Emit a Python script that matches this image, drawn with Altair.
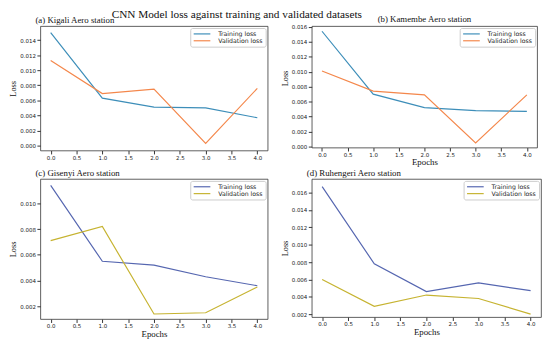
import altair as alt
import pandas as pd

epochs = [0, 1, 2, 3, 4]
series_names = ["Training loss", "Validation loss"]

kigali_train = [0.0150, 0.0063, 0.0051, 0.0050, 0.0037]
kigali_val = [0.0113, 0.0069, 0.0075, 0.0003, 0.0076]
kamembe_train = [0.0154, 0.0070, 0.0052, 0.0048, 0.0047]
kamembe_val = [0.0101, 0.0074, 0.0069, 0.0005, 0.0069]
gisenyi_train = [0.0114, 0.0055, 0.0052, 0.0043, 0.0036]
gisenyi_val = [0.0071, 0.0082, 0.0014, 0.0015, 0.0035]
ruhengeri_train = [0.0167, 0.0078, 0.0046, 0.0056, 0.0047]
ruhengeri_val = [0.0060, 0.0029, 0.0042, 0.0038, 0.0020]

x_ticks = [0.0, 0.5, 1.0, 1.5, 2.0, 2.5, 3.0, 3.5, 4.0]

SERIF = "Liberation Serif"
SANS = "DejaVu Sans"


def frame(train, val):
    rows = []
    for e, t, v in zip(epochs, train, val):
        rows.append({"epoch": e, "loss": t, "series": series_names[0]})
        rows.append({"epoch": e, "loss": v, "series": series_names[1]})
    return pd.DataFrame(rows)


def panel(train, val, title, anchor, tdx, ydomain, yticks, colors, w, h,
          xtitle=None, ytitle_y=None, ytitle_pad=2.0, xtitle_pad=0.5):
    yaxis_kw = dict(values=yticks, format=".3f", title="Loss",
                    titleFont=SERIF, titleFontSize=8.5, titleFontWeight="normal",
                    titlePadding=ytitle_pad, labelFont=SANS, labelFontSize=5.6,
                    labelPadding=1.5, tickSize=3.5, grid=False, domain=False,
                    tickColor="#333", labelColor="#222", titleColor="#111")
    if ytitle_y is not None:
        yaxis_kw["titleY"] = ytitle_y
    xaxis_kw = dict(values=x_ticks, format=".1f", labelAngle=0,
                    labelFont=SANS, labelFontSize=5.6, labelPadding=1.5,
                    tickSize=3.5, grid=False, domain=False, tickColor="#333",
                    labelColor="#222", titleColor="#111")
    if xtitle:
        xaxis_kw.update(title=xtitle, titleFont=SERIF, titleFontSize=9,
                        titleFontWeight="normal", titlePadding=xtitle_pad)
    else:
        xaxis_kw.update(title=None)
    return alt.Chart(frame(train, val)).mark_line(strokeWidth=1.2).encode(
        x=alt.X("epoch:Q", scale=alt.Scale(domain=[-0.2, 4.2], nice=False, zero=False),
                axis=alt.Axis(**xaxis_kw)),
        y=alt.Y("loss:Q", scale=alt.Scale(domain=ydomain, nice=False, zero=False),
                axis=alt.Axis(**yaxis_kw)),
        color=alt.Color("series:N",
                        scale=alt.Scale(domain=series_names, range=colors),
                        legend=alt.Legend(title=None, orient="top-right", offset=2,
                                          strokeColor="#ccc", fillColor="white",
                                          padding=2.5, cornerRadius=2,
                                          symbolType="M-3.4,0L3.4,0",
                                          symbolStrokeWidth=1.2, symbolSize=25,
                                          symbolOffset=6, labelOffset=13,
                                          labelFont=SANS, labelFontSize=6.3,
                                          labelColor="#222", rowPadding=0)),
    ).properties(
        width=w, height=h,
        title=alt.TitleParams(title, font=SERIF, fontSize=9, fontWeight="normal",
                              anchor=anchor, frame="group", dx=tdx, offset=1,
                              color="#111"),
    )


c1 = ["#3d8eb9", "#f4874b"]
c2 = ["#5566b0", "#c6b330"]

a = panel(kigali_train, kigali_val, "(a) Kigali Aero station", "start", -5,
          [-0.00065, 0.01586], [0.000, 0.002, 0.004, 0.006, 0.008, 0.010, 0.012, 0.014],
          c1, 232, 127)
b = panel(kamembe_train, kamembe_val, "(b) Kamembe Aero station", "middle", 0,
          [-0.00013, 0.01609], [0.000, 0.002, 0.004, 0.006, 0.008, 0.010, 0.012, 0.014, 0.016],
          c1, 230, 124, xtitle="Epochs", ytitle_y=53, xtitle_pad=0)
c = panel(gisenyi_train, gisenyi_val, "(c) Gisenyi Aero station", "start", -5,
          [0.00101, 0.0119], [0.002, 0.004, 0.006, 0.008, 0.010],
          c2, 232, 143, xtitle="Epochs")
d = panel(ruhengeri_train, ruhengeri_val, "(d) Ruhengeri Aero station", "start", -5,
          [0.00166, 0.01758], [0.002, 0.004, 0.006, 0.008, 0.010, 0.012, 0.014, 0.016],
          c2, 234, 141, xtitle="Epochs")

chart = alt.concat(a, b, c, d, columns=2,
                   spacing=alt.RowColnumber(row=1, column=11)).resolve_scale(
    color="independent"
).properties(
    title=alt.TitleParams("CNN Model loss against training and validated datasets",
                          font=SERIF, fontSize=11.5, fontWeight="normal",
                          anchor="middle", dx=-39, offset=-6, color="#111"),
    padding={"left": 0, "top": -3, "right": 0, "bottom": 0},
).configure_view(stroke="#333", strokeWidth=0.8)

chart.save("out.html", embed_options={"renderer": "svg", "actions": False})
